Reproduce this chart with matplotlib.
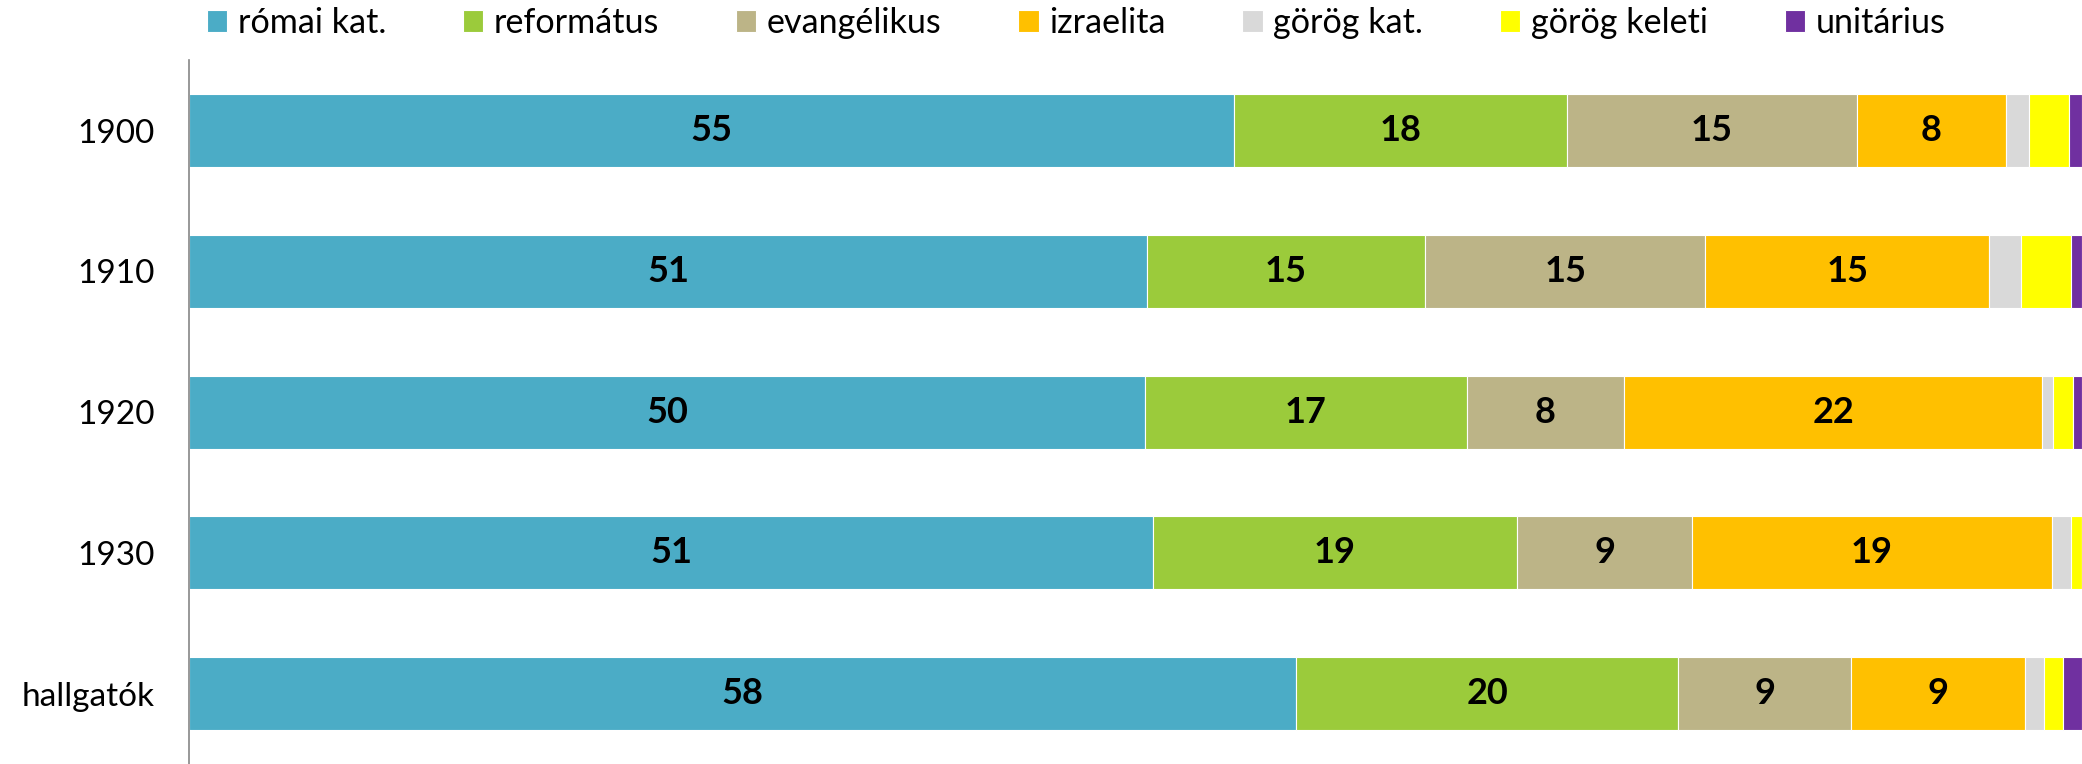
import numpy as np
import matplotlib.pyplot as plt

plt.rcParams['font.family'] = ['Lato', 'DejaVu Sans']

# rows, top to bottom
rows = ['1900', '1910', '1920', '1930', 'hallgatók']
series = ['római kat.', 'református', 'evangélikus', 'izraelita',
          'görög kat.', 'görög keleti', 'unitárius']
colors = ['#4BACC6', '#9BCB3B', '#BCB487', '#FFC000',
          '#D9D9D9', '#FFFF00', '#7030A0']

romai = [55.2, 50.6, 50.5, 51.0, 58.4]
reform = [17.6, 14.7, 17.0, 19.2, 20.2]
evang = [15.3, 14.8, 8.3, 9.3, 9.1]
izrael = [7.9, 15.0, 22.1, 19.0, 9.2]
gorog_kat = [1.2, 1.7, 0.55, 1.0, 1.0]
gorog_kel = [2.1, 2.6, 1.1, 0.6, 1.0]
unitar = [0.7, 0.6, 0.45, 0.0, 1.0]

data = np.array([romai, reform, evang, izrael, gorog_kat, gorog_kel, unitar])
data = data / data.sum(axis=0) * 100

fig = plt.figure(figsize=(20.82, 7.64), dpi=100)
ax = fig.add_axes([0.0908, 0.0, 0.9092, 0.921])

y = np.arange(len(rows))
left = np.zeros(len(rows))
for i in range(len(series)):
    bars = ax.barh(y, data[i], left=left, height=0.52, color=colors[i],
                   edgecolor='white', linewidth=0.8, label=series[i])
    for j, b in enumerate(bars):
        v = data[i][j]
        if v >= 7:
            ax.text(left[j] + v / 2, y[j], '%d' % round(v), ha='center',
                    va='center', fontsize=26, fontweight='bold', color='black')
    left += data[i]

ax.set_xlim(0, 100)
ax.set_ylim(len(rows) - 0.5, -0.5)
ax.set_yticks(y)
ax.set_yticklabels(rows, fontsize=24)
ax.tick_params(axis='y', length=0, pad=25)
ax.set_xticks([])
for s in ['top', 'right', 'bottom']:
    ax.spines[s].set_visible(False)
ax.spines['left'].set_color('#868686')
ax.spines['left'].set_linewidth(1.2)

leg = fig.legend(loc='center left', bbox_to_anchor=(0.0994, 0.97), ncol=7,
                 frameon=False, fontsize=24.6, handlelength=0.6, handleheight=0.6,
                 handletextpad=0.3, columnspacing=2.25, borderpad=0,
                 borderaxespad=0)

fig.savefig('out.png', dpi=100)
